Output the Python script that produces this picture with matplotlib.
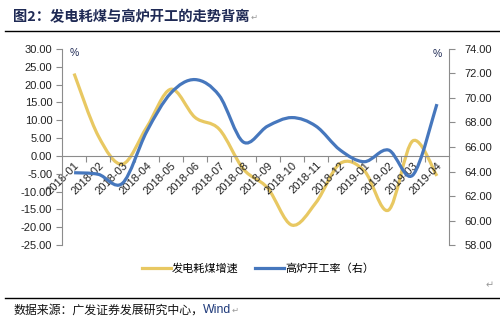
import numpy as np
import matplotlib
matplotlib.use('Agg')
import matplotlib.pyplot as plt
from matplotlib.path import Path
from matplotlib.patches import PathPatch
from matplotlib.lines import Line2D
from matplotlib.ticker import FormatStrFormatter, FixedLocator

plt.rcParams['font.family'] = ['Liberation Sans', 'Noto Sans CJK SC', 'DejaVu Sans']

months = ['2018-01', '2018-02', '2018-03', '2018-04', '2018-05', '2018-06',
          '2018-07', '2018-08', '2018-09', '2018-10', '2018-11', '2018-12',
          '2019-01', '2019-02', '2019-03', '2019-04']
coal = [23.1, 5.6, -2.3, 8.0, 18.7, 10.8, 7.5, -3.7, -9.0, -19.4, -13.1, -2.1,
        -4.2, -15.2, 4.2, -5.6]
furnace = [63.9, 63.77, 63.04, 67.25, 70.4, 71.5, 70.2, 66.4, 67.7, 68.4, 67.7,
           65.75, 64.8, 65.75, 63.7, 69.5]

yellow = '#E8C862'
blue = '#4677BD'
grey = '#8c8c8c'
cjk = ['Noto Sans CJK SC', 'DejaVu Sans']


def smooth_path(xs, ys):
    # excel-like smoothed line: cubic bezier, catmull-rom style control points
    pts = np.column_stack([xs, ys]).astype(float)
    n = len(pts)
    verts = [pts[0]]
    codes = [Path.MOVETO]
    for i in range(n - 1):
        p0 = pts[i - 1] if i > 0 else pts[i]
        p1 = pts[i]
        p2 = pts[i + 1]
        p3 = pts[i + 2] if i + 2 < n else pts[i + 1]
        c1 = p1 + (p2 - p0) / 6
        c2 = p2 - (p3 - p1) / 6
        verts += [c1, c2, p2]
        codes += [Path.CURVE4] * 3
    return Path(verts, codes)


fig = plt.figure(figsize=(5.0, 3.22), dpi=100)
ax = fig.add_axes([0.124, 0.239, 0.774, 0.609])
ax2 = ax.twinx()

x = np.arange(len(months))
ax.add_patch(PathPatch(smooth_path(x, coal), fill=False, edgecolor=yellow,
                       lw=2.3, capstyle='butt'))
ax2.add_patch(PathPatch(smooth_path(x, furnace), fill=False, edgecolor=blue,
                        lw=2.3, capstyle='butt'))

ax.set_xlim(-0.5, len(months) - 0.5)
ax.set_ylim(-25, 30)
ax2.set_ylim(58, 74)
ax.set_yticks(np.arange(-25, 31, 5))
ax2.set_yticks(np.arange(58, 75, 2))
ax.yaxis.set_major_formatter(FormatStrFormatter('%.2f'))
ax2.yaxis.set_major_formatter(FormatStrFormatter('%.2f'))

for a in (ax, ax2):
    for s in a.spines.values():
        s.set_color(grey)
        s.set_linewidth(0.8)
    a.spines['top'].set_visible(False)
ax2.spines['bottom'].set_visible(False)
ax.spines['right'].set_visible(False)
ax2.spines['left'].set_visible(False)
ax.spines['bottom'].set_position(('data', 0))

ax.tick_params(axis='y', direction='out', length=4, width=0.8, color=grey,
               labelsize=8, labelcolor='#222222', pad=3)
ax2.tick_params(axis='y', direction='out', length=4, width=0.8, color=grey,
                labelsize=8, labelcolor='#222222', pad=7)

ax.set_xticks(x)
ax.set_xticklabels(months, rotation=45, ha='right', va='top',
                   rotation_mode='anchor', fontsize=8, color='#222222')
ax.xaxis.set_minor_locator(FixedLocator(np.arange(0.5, len(months) - 1, 1)))
ax.tick_params(axis='x', which='major', length=0, pad=3)
ax.tick_params(axis='x', which='minor', direction='out', length=4, width=0.8,
               color=grey)

ax.text(0, 28.9, '%', fontsize=7.5, color='#1F2A55', ha='center', va='center')
ax2.text(15, 73.6, '%', fontsize=7.5, color='#1F2A55', ha='center', va='center')

# title, rules, source
title = fig.text(0.026, 0.948, '图2：发电耗煤与高炉开工的走势背离', fontsize=10.3,
                 fontweight='bold', color='#1F2A55', ha='left', va='center',
                 family=cjk)
ax.annotate('\u21b5', xy=(1, 0.45), xycoords=title, xytext=(1, 0),
            textcoords='offset points', fontsize=6, color='#999999',
            ha='left', va='center', family='DejaVu Sans', annotation_clip=False)
fig.add_artist(Line2D([0.01, 1.0], [0.905, 0.905], color='black', lw=1.0))
fig.add_artist(Line2D([0.01, 1.0], [0.075, 0.075], color='black', lw=1.0))
src = fig.text(0.026, 0.037, '数据来源：广发证券发展研究中心，', fontsize=8.6,
               color='#111111', ha='left', va='center', family=cjk)
wind = ax.annotate('Wind', xy=(1, 0.5), xycoords=src, fontsize=8.8,
                   color='#1F3A7A', ha='left', va='center',
                   annotation_clip=False)
ax.annotate('\u21b5', xy=(1, 0.5), xycoords=wind, xytext=(0.5, 0),
            textcoords='offset points', fontsize=6, color='#999999',
            ha='left', va='center', family='DejaVu Sans', annotation_clip=False)
fig.text(0.988, 0.115, '\u21b5', fontsize=7, color='#999999', ha='right',
         va='center', family='DejaVu Sans')

handles = [Line2D([], [], color=yellow, lw=2.3),
           Line2D([], [], color=blue, lw=2.3)]
fig.legend(handles, ['发电耗煤增速', '高炉开工率（右）'], loc='center',
           bbox_to_anchor=(0.516, 0.165), ncol=2, frameon=False,
           handlelength=2.6, handletextpad=0.1, columnspacing=1.45,
           prop={'family': cjk, 'size': 8})

fig.savefig('out.png', dpi=100)
